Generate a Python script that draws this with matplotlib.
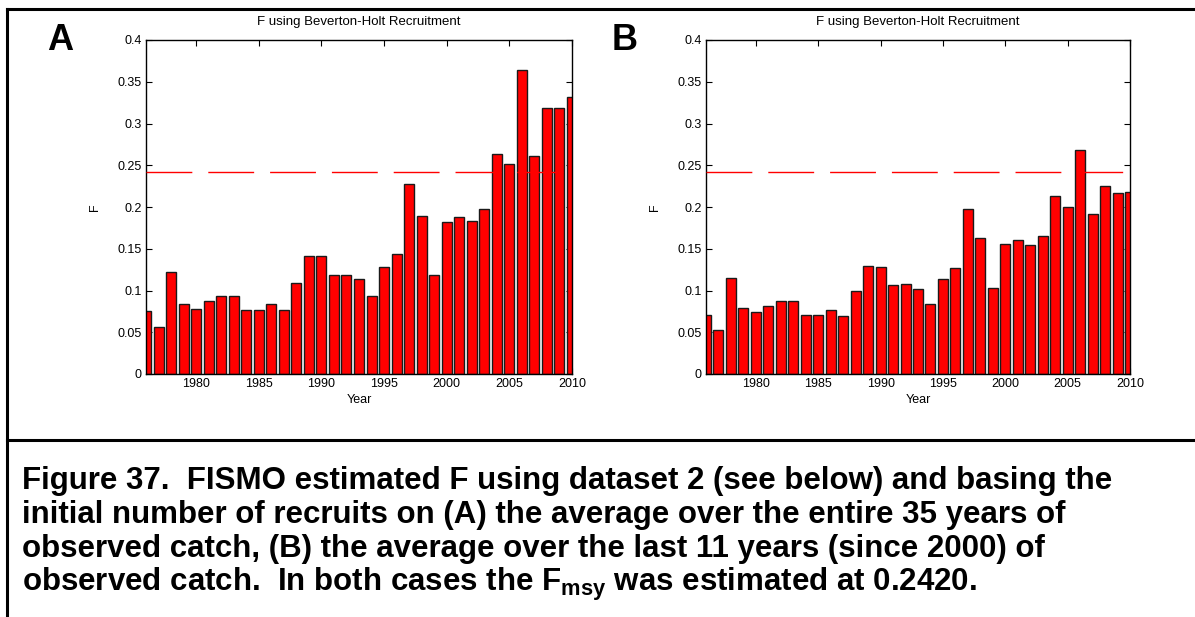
import matplotlib
matplotlib.use("Agg")
import matplotlib.pyplot as plt
from matplotlib.lines import Line2D

plt.rcParams['font.family'] = ['Liberation Sans', 'DejaVu Sans']
plt.rcParams['mathtext.fontset'] = 'custom'
plt.rcParams['mathtext.rm'] = 'Liberation Sans:bold'
plt.rcParams['mathtext.bf'] = 'Liberation Sans:bold'

years = list(range(1976, 2011))

# F with recruits based on the whole 35 years of catch
f_all = [0.075, 0.056, 0.122, 0.084, 0.078, 0.088, 0.093, 0.093, 0.077, 0.077,
         0.084, 0.077, 0.109, 0.141, 0.141, 0.119, 0.119, 0.114, 0.094, 0.128,
         0.144, 0.228, 0.189, 0.119, 0.182, 0.188, 0.183, 0.198, 0.264, 0.252,
         0.364, 0.261, 0.318, 0.318, 0.332]

# F with recruits based on the last 11 years (since 2000)
f_last11 = [0.071, 0.053, 0.115, 0.079, 0.074, 0.081, 0.087, 0.087, 0.071, 0.071,
            0.077, 0.070, 0.100, 0.129, 0.128, 0.107, 0.108, 0.102, 0.084, 0.114,
            0.127, 0.198, 0.163, 0.103, 0.156, 0.161, 0.155, 0.165, 0.213, 0.200,
            0.268, 0.192, 0.225, 0.217, 0.218]

fmsy = 0.2420
panel_labels = ["A", "B"]
title = "F using Beverton-Holt Recruitment"
yticks = [0, 0.05, 0.1, 0.15, 0.2, 0.25, 0.3, 0.35, 0.4]
ytick_labels = ["0", "0.05", "0.1", "0.15", "0.2", "0.25", "0.3", "0.35", "0.4"]
xticks = [1980, 1985, 1990, 1995, 2000, 2005, 2010]

caption = [
    "Figure 37.  FISMO estimated F using dataset 2 (see below) and basing the",
    "initial number of recruits on (A) the average over the entire 35 years of",
    "observed catch, (B) the average over the last 11 years (since 2000) of",
    r"observed catch.  In both cases the $\mathbf{F}_{\mathbf{msy}}$ was estimated at 0.2420.",
]

W, H = 1195, 617
fig = plt.figure(figsize=(W / 100, H / 100), dpi=100)

def fx(px):
    return px / W

def fy(py):
    return 1 - py / H

panels = [(146, 572, f_all), (706, 1130, f_last11)]
label_x = [60, 625]

for (x0, x1, vals), lab, lx in zip(panels, panel_labels, label_x):
    ax = fig.add_axes([fx(x0), fy(374), fx(x1 - x0), (374 - 40) / H])
    ax.bar(years, vals, width=0.8, color="#ff0000", edgecolor="#1a1a1a",
           linewidth=1.0, zorder=2)
    ax.plot([years[0], years[-1]], [fmsy, fmsy], color="#ff0000", linewidth=1.0,
            dashes=(33, 11.5), zorder=3)
    ax.set_xlim(years[0], years[-1])
    ax.set_ylim(0, 0.4)
    ax.set_yticks(yticks)
    ax.set_yticklabels(ytick_labels)
    ax.set_xticks(xticks)
    ax.tick_params(direction="in", length=4, width=0.8, top=True, right=True,
                   labelsize=9, pad=3)
    for s in ax.spines.values():
        s.set_linewidth(1.0)
    ax.set_title(title, fontsize=9.5, pad=11)
    ax.set_xlabel("Year", fontsize=9, labelpad=3)
    ax.set_ylabel("F", fontsize=9, labelpad=12)
    fig.text(fx(lx), fy(40), lab, fontsize=26, fontweight="bold",
             ha="center", va="center")

# frame lines
lw = 2.2
fig.add_artist(Line2D([fx(7), 1], [fy(9), fy(9)], color="black", lw=lw,
                      transform=fig.transFigure))
fig.add_artist(Line2D([fx(7), fx(7)], [0, fy(9)], color="black", lw=lw,
                      transform=fig.transFigure))
fig.add_artist(Line2D([fx(7), 1], [fy(440), fy(440)], color="black", lw=lw,
                      transform=fig.transFigure))

baselines = [489, 523, 557, 591]
for line, b in zip(caption, baselines):
    fig.text(fx(22), fy(b), line, fontsize=22.5, fontweight="bold",
             ha="left", va="baseline")

fig.savefig("out.png", dpi=100)
